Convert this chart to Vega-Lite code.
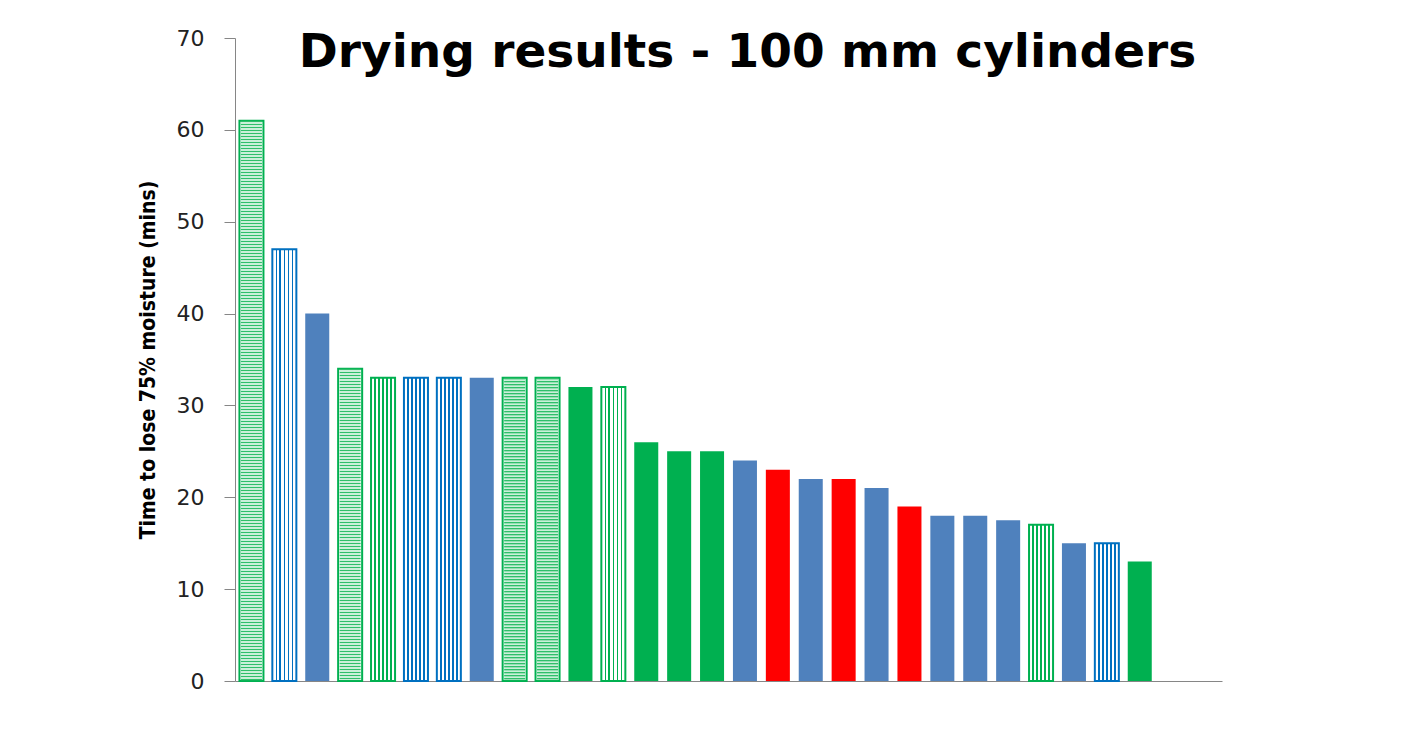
{
  "$schema": "https://vega.github.io/schema/vega-lite/v6.json",
  "width": 987,
  "height": 643,
  "autosize": {"type": "none"},
  "padding": {"left": 235, "top": 38, "right": 183, "bottom": 48},
  "background": "white",
  "title": {
    "text": "Drying results - 100 mm cylinders",
    "font": "DejaVu Sans",
    "fontSize": 47,
    "fontWeight": "bold",
    "color": "#000000",
    "anchor": "middle",
    "dx": 19,
    "offset": -50
  },
  "data": {
    "values": [
      {"id": 1, "value": 61, "group": "green", "pattern": "hstripe"},
      {"id": 2, "value": 47, "group": "blue", "pattern": "vstripe"},
      {"id": 3, "value": 40, "group": "blue", "pattern": "solid"},
      {"id": 4, "value": 34, "group": "green", "pattern": "hstripe"},
      {"id": 5, "value": 33, "group": "green", "pattern": "vstripe"},
      {"id": 6, "value": 33, "group": "blue", "pattern": "vstripe"},
      {"id": 7, "value": 33, "group": "blue", "pattern": "vstripe"},
      {"id": 8, "value": 33, "group": "blue", "pattern": "solid"},
      {"id": 9, "value": 33, "group": "green", "pattern": "hstripe"},
      {"id": 10, "value": 33, "group": "green", "pattern": "hstripe"},
      {"id": 11, "value": 32, "group": "green", "pattern": "solid"},
      {"id": 12, "value": 32, "group": "green", "pattern": "vstripe"},
      {"id": 13, "value": 26, "group": "green", "pattern": "solid"},
      {"id": 14, "value": 25, "group": "green", "pattern": "solid"},
      {"id": 15, "value": 25, "group": "green", "pattern": "solid"},
      {"id": 16, "value": 24, "group": "blue", "pattern": "solid"},
      {"id": 17, "value": 23, "group": "red", "pattern": "solid"},
      {"id": 18, "value": 22, "group": "blue", "pattern": "solid"},
      {"id": 19, "value": 22, "group": "red", "pattern": "solid"},
      {"id": 20, "value": 21, "group": "blue", "pattern": "solid"},
      {"id": 21, "value": 19, "group": "red", "pattern": "solid"},
      {"id": 22, "value": 18, "group": "blue", "pattern": "solid"},
      {"id": 23, "value": 18, "group": "blue", "pattern": "solid"},
      {"id": 24, "value": 17.5, "group": "blue", "pattern": "solid"},
      {"id": 25, "value": 17, "group": "green", "pattern": "vstripe"},
      {"id": 26, "value": 15, "group": "blue", "pattern": "solid"},
      {"id": 27, "value": 15, "group": "blue", "pattern": "vstripe"},
      {"id": 28, "value": 13, "group": "green", "pattern": "solid"}
    ]
  },
  "encoding": {
    "x": {
      "field": "id",
      "type": "ordinal",
      "scale": {
        "domain": [1,2,3,4,5,6,7,8,9,10,11,12,13,14,15,16,17,18,19,20,21,22,23,24,25,26,27,28,29,30],
        "paddingInner": 0.27,
        "paddingOuter": 0.135
      },
      "axis": {
        "labels": false,
        "ticks": false,
        "title": null,
        "domainColor": "#868686",
        "domainWidth": 1
      }
    },
    "y": {
      "field": "value",
      "type": "quantitative",
      "scale": {"domain": [0, 70], "nice": false},
      "axis": {
        "values": [0, 10, 20, 30, 40, 50, 60, 70],
        "grid": false,
        "title": "Time to lose 75% moisture (mins)",
        "titleFont": "DejaVu Sans Condensed, Roboto, Liberation Sans",
        "titleFontSize": 21,
        "titleFontWeight": "bold",
        "titleColor": "#000000",
        "titlePadding": 18,
        "labelFont": "DejaVu Sans",
        "labelFontSize": 22,
        "labelColor": "#222222",
        "labelPadding": 20,
        "tickSize": 11,
        "tickColor": "#868686",
        "domainColor": "#868686",
        "domainWidth": 1
      }
    }
  },
  "layer": [
    {
      "transform": [{"filter": "datum.pattern === 'solid'"}],
      "mark": {"type": "bar"},
      "encoding": {
        "color": {
          "field": "group",
          "type": "nominal",
          "scale": {"domain": ["blue", "green", "red"], "range": ["#4F81BD", "#00B050", "#FF0000"]},
          "legend": null
        }
      }
    },
    {
      "transform": [{"filter": "datum.pattern === 'hstripe'"}],
      "mark": {"type": "bar", "fill": "#FFFFFF", "stroke": "#00B050", "strokeWidth": 2}
    },
    {
      "transform": [{"filter": "datum.pattern === 'hstripe'"}],
      "mark": {"type": "rule", "color": "#2FBF6A", "strokeWidth": 21, "strokeDash": [1.6, 1.4], "strokeCap": "butt"},
      "encoding": {"y2": {"datum": 0}}
    },
    {
      "transform": [{"filter": "datum.pattern === 'vstripe' && datum.group === 'green'"}],
      "mark": {
        "type": "bar",
        "stroke": "#00B050",
        "strokeWidth": 2,
        "fill": {
          "gradient": "linear", "x1": 0, "y1": 0, "x2": 1, "y2": 0,
          "stops": [
            {"offset": 0, "color": "#FFFFFF"}, {"offset": 0.132, "color": "#FFFFFF"},
            {"offset": 0.132, "color": "#00B050"}, {"offset": 0.202, "color": "#00B050"},
            {"offset": 0.202, "color": "#FFFFFF"}, {"offset": 0.298, "color": "#FFFFFF"},
            {"offset": 0.298, "color": "#00B050"}, {"offset": 0.368, "color": "#00B050"},
            {"offset": 0.368, "color": "#FFFFFF"}, {"offset": 0.465, "color": "#FFFFFF"},
            {"offset": 0.465, "color": "#00B050"}, {"offset": 0.535, "color": "#00B050"},
            {"offset": 0.535, "color": "#FFFFFF"}, {"offset": 0.632, "color": "#FFFFFF"},
            {"offset": 0.632, "color": "#00B050"}, {"offset": 0.702, "color": "#00B050"},
            {"offset": 0.702, "color": "#FFFFFF"}, {"offset": 0.798, "color": "#FFFFFF"},
            {"offset": 0.798, "color": "#00B050"}, {"offset": 0.868, "color": "#00B050"},
            {"offset": 0.868, "color": "#FFFFFF"}, {"offset": 1, "color": "#FFFFFF"}
          ]
        }
      }
    },
    {
      "transform": [{"filter": "datum.pattern === 'vstripe' && datum.group === 'blue'"}],
      "mark": {
        "type": "bar",
        "stroke": "#0070C0",
        "strokeWidth": 2,
        "fill": {
          "gradient": "linear", "x1": 0, "y1": 0, "x2": 1, "y2": 0,
          "stops": [
            {"offset": 0, "color": "#FFFFFF"}, {"offset": 0.132, "color": "#FFFFFF"},
            {"offset": 0.132, "color": "#0070C0"}, {"offset": 0.202, "color": "#0070C0"},
            {"offset": 0.202, "color": "#FFFFFF"}, {"offset": 0.298, "color": "#FFFFFF"},
            {"offset": 0.298, "color": "#0070C0"}, {"offset": 0.368, "color": "#0070C0"},
            {"offset": 0.368, "color": "#FFFFFF"}, {"offset": 0.465, "color": "#FFFFFF"},
            {"offset": 0.465, "color": "#0070C0"}, {"offset": 0.535, "color": "#0070C0"},
            {"offset": 0.535, "color": "#FFFFFF"}, {"offset": 0.632, "color": "#FFFFFF"},
            {"offset": 0.632, "color": "#0070C0"}, {"offset": 0.702, "color": "#0070C0"},
            {"offset": 0.702, "color": "#FFFFFF"}, {"offset": 0.798, "color": "#FFFFFF"},
            {"offset": 0.798, "color": "#0070C0"}, {"offset": 0.868, "color": "#0070C0"},
            {"offset": 0.868, "color": "#FFFFFF"}, {"offset": 1, "color": "#FFFFFF"}
          ]
        }
      }
    }
  ],
  "config": {
    "view": {"stroke": null}
  }
}
